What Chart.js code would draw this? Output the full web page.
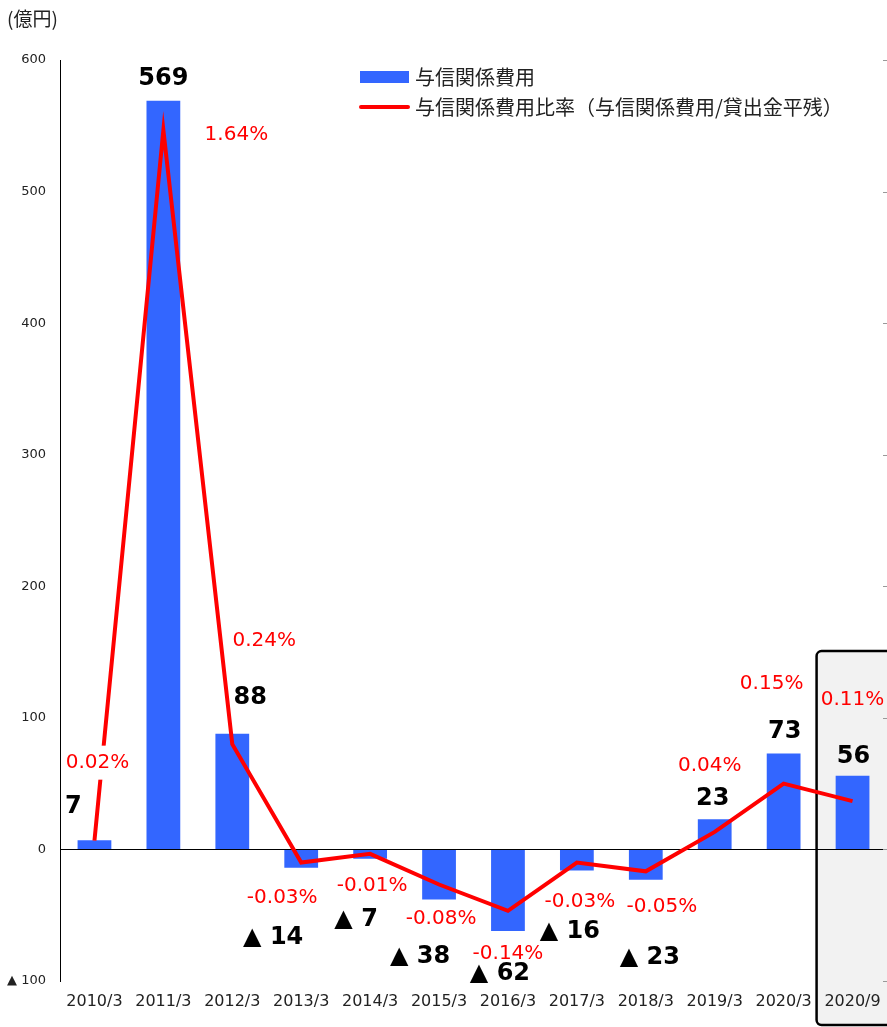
<!DOCTYPE html>
<html>
<head>
<meta charset="utf-8">
<script src="https://cdn.jsdelivr.net/npm/chart.js@4.4.1/dist/chart.umd.min.js"></script>
<style>
html,body{margin:0;padding:0;background:#fff;}
#wrap{width:887px;height:1027px;position:relative;}
</style>
</head>
<body>
<div id="wrap"><canvas id="c"></canvas></div>
<script>
// ---- data ----
const categories = ['2010/3','2011/3','2012/3','2013/3','2014/3','2015/3','2016/3','2017/3','2018/3','2019/3','2020/3','2020/9'];
const creditCost = [7, 569, 88, -14, -7, -38, -62, -16, -23, 23, 73, 56];
const costRatio = [0.02, 1.64, 0.24, -0.03, -0.01, -0.08, -0.14, -0.03, -0.05, 0.04, 0.15, 0.11];
const ratioLabels = ['0.02%','1.64%','0.24%','-0.03%','-0.01%','-0.08%','-0.14%','-0.03%','-0.05%','0.04%','0.15%','0.11%'];
const seriesNames = ['与信関係費用', '与信関係費用比率（与信関係費用/貸出金平残）'];
const unitLabel = '(億円)';
const leftAxis = {min: -100, max: 600, step: 100};
const rightAxis = {min: -0.3, max: 1.8, step: 0.3};
const highlightIndex = 11;

// ---- label placement (style) ----
const costLabelOffset = [[-21,-33],[0,-22],[18,-36],[-28,70],[-14,61],[-19,57],[-8,43],[-7,61],[4,78],[-2,-20],[1,-22],[1,-19]];
const ratioLabelOffset = [[3,-78],[73,5],[32,-103],[-19,35],[2,32],[2,34],[0,43],[3,39],[16,35],[-5,-66],[-12,-100],[0,-101]];
const ratioLabelBg = [true,false,false,false,false,false,false,false,false,false,false,false];

const BLUE = '#3366FF';
const RED = '#FF0000';
const FONT = '"DejaVu Sans", "Noto Sans CJK JP", sans-serif';
const CJK = '"Noto Sans CJK JP", "DejaVu Sans", sans-serif';

const decor = {
  id: 'decor',
  beforeDraw(chart) {
    const {ctx, scales: {x, y}} = chart;
    const cx = x.getPixelForValue(highlightIndex);
    const half = (x.getPixelForValue(1) - x.getPixelForValue(0)) / 2;
    const left = cx - half - 1.5;
    const top = y.getPixelForValue(150) - 1;
    const right = chart.width + 6;
    const bottom = chart.height - 2;
    ctx.save();
    ctx.beginPath();
    ctx.roundRect(left, top, right - left, bottom - top, 5);
    ctx.fillStyle = '#F2F2F2';
    ctx.fill();
    ctx.lineWidth = 2.5;
    ctx.strokeStyle = '#000';
    ctx.stroke();
    ctx.restore();
  },
  afterDatasetsDraw(chart) {
    const {ctx, chartArea, scales} = chart;
    ctx.save();
    // right axis tick marks
    const y1 = scales.y1;
    ctx.strokeStyle = '#999';
    ctx.lineWidth = 1;
    for (let v = rightAxis.min; v <= rightAxis.max + 1e-9; v += rightAxis.step) {
      const py = Math.round(y1.getPixelForValue(v)) + 0.5;
      ctx.beginPath();
      ctx.moveTo(chartArea.right - 4, py);
      ctx.lineTo(chartArea.right, py);
      ctx.stroke();
    }
    // bar value labels
    const barMeta = chart.getDatasetMeta(0);
    ctx.textAlign = 'center';
    ctx.textBaseline = 'middle';
    ctx.font = 'bold 24px ' + FONT;
    ctx.fillStyle = '#000';
    barMeta.data.forEach((el, i) => {
      const v = creditCost[i];
      const t = v < 0 ? '▲ ' + Math.abs(v) : String(v);
      ctx.fillText(t, el.x + costLabelOffset[i][0], el.y + costLabelOffset[i][1]);
    });
    // ratio labels
    const lineMeta = chart.getDatasetMeta(1);
    ctx.font = '20px ' + FONT;
    lineMeta.data.forEach((el, i) => {
      const px = el.x + ratioLabelOffset[i][0];
      const py = el.y + ratioLabelOffset[i][1];
      if (ratioLabelBg[i]) {
        const w = ctx.measureText(ratioLabels[i]).width;
        ctx.fillStyle = '#fff';
        ctx.fillRect(px - w / 2 - 3, py - 17, w + 6, 34);
      }
      ctx.fillStyle = RED;
      ctx.fillText(ratioLabels[i], px, py);
    });
    // legend
    ctx.fillStyle = BLUE;
    ctx.fillRect(360, 71, 49, 12);
    ctx.strokeStyle = RED;
    ctx.lineWidth = 4;
    ctx.lineCap = 'round';
    ctx.beginPath();
    ctx.moveTo(361, 107);
    ctx.lineTo(408, 107);
    ctx.stroke();
    ctx.fillStyle = '#222';
    ctx.font = '20px ' + CJK;
    ctx.textAlign = 'left';
    ctx.fillText(seriesNames[0], 415, 77);
    ctx.fillText(seriesNames[1], 415, 107);
    // unit label
    ctx.font = '19px ' + CJK;
    ctx.fillText(unitLabel, 7, 19);
    ctx.restore();
  }
};

new Chart(document.getElementById('c'), {
  data: {
    labels: categories,
    datasets: [
      {
        type: 'bar',
        label: seriesNames[0],
        data: creditCost,
        backgroundColor: BLUE,
        yAxisID: 'y',
        categoryPercentage: 1,
        barPercentage: 0.49,
        order: 2
      },
      {
        type: 'line',
        label: seriesNames[1],
        data: costRatio,
        borderColor: RED,
        borderWidth: 4,
        pointRadius: 0,
        tension: 0,
        fill: false,
        yAxisID: 'y1',
        order: 1
      }
    ]
  },
  plugins: [decor],
  options: {
    responsive: true,
    maintainAspectRatio: false,
    animation: false,
    layout: {padding: {top: 60, left: 0, right: 0, bottom: 0}},
    plugins: {legend: {display: false}, tooltip: {enabled: false}},
    scales: {
      x: {
        offset: true,
        grid: {display: false, drawTicks: false},
        border: {display: false},
        ticks: {color: '#222', font: {family: FONT, size: 16}, padding: 11, maxRotation: 0, autoSkip: false},
        afterFit(s) { s.height = 46; s.paddingLeft = 0; s.paddingRight = 0; }
      },
      y: {
        position: 'left',
        min: leftAxis.min,
        max: leftAxis.max,
        ticks: {
          stepSize: leftAxis.step,
          color: '#222',
          font: {family: FONT, size: 13},
          padding: 14,
          callback: v => v < 0 ? '▲ ' + Math.abs(v) : v
        },
        grid: {
          drawTicks: false,
          color: c => (c.tick && c.tick.value === 0) ? '#000' : 'rgba(0,0,0,0)',
          lineWidth: 1
        },
        border: {display: true, color: '#000', width: 1},
        afterFit(s) { s.width = 60; }
      },
      y1: {
        position: 'right',
        display: false,
        min: rightAxis.min,
        max: rightAxis.max,
        ticks: {stepSize: rightAxis.step}
      }
    }
  }
});
</script>
</body>
</html>
